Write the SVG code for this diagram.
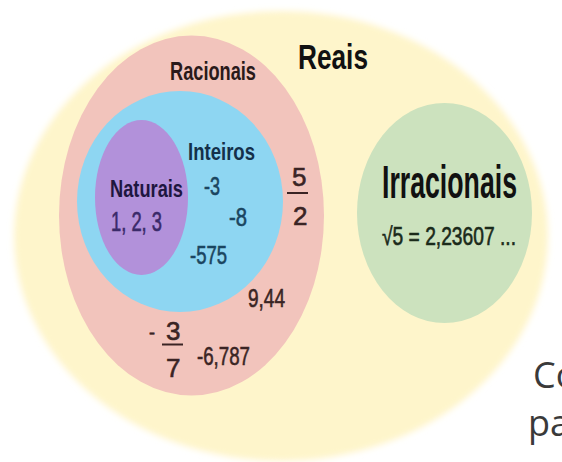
<svg xmlns="http://www.w3.org/2000/svg" width="562" height="462" viewBox="0 0 562 462">
<defs>
<filter id="soft" x="-10%" y="-10%" width="120%" height="120%"><feGaussianBlur stdDeviation="3"/></filter>
</defs>
<style>
.t{font-family:"Liberation Sans Narrow","Liberation Sans",Arial,sans-serif;font-weight:bold}
.n{font-family:"Liberation Sans Narrow","Liberation Sans",Arial,sans-serif;font-weight:normal;stroke-width:0.6}
.bar{stroke-width:2}
</style>
<rect width="562" height="462" fill="#ffffff"/>
<g id="reais">
<ellipse cx="281" cy="236" rx="267" ry="225" fill="#fef5cb" filter="url(#soft)"/>
<text class="t" x="298" y="69" font-size="35" fill="#111" textLength="70" lengthAdjust="spacingAndGlyphs">Reais</text>
</g>
<g id="racionais">
<ellipse cx="191.5" cy="215.5" rx="132.5" ry="180" fill="#f2c4bc"/>
<text class="t" x="170" y="80" font-size="25" fill="#2a1a1a" textLength="86" lengthAdjust="spacingAndGlyphs">Racionais</text>
<text class="n" x="292" y="186" font-size="26" fill="#3a2424" stroke="#3a2424">5</text>
<line class="bar" x1="287" y1="193" x2="308" y2="193" stroke="#3a2424"/>
<text class="n" x="293" y="225" font-size="26" fill="#3a2424" stroke="#3a2424">2</text>
<text class="n" x="248" y="307" font-size="26" fill="#3a2424" stroke="#3a2424" textLength="37" lengthAdjust="spacingAndGlyphs">9,44</text>
<text class="n" x="149" y="339" font-size="18" fill="#3a2424" stroke="#3a2424">-</text>
<text class="n" x="166" y="340" font-size="26" fill="#3a2424" stroke="#3a2424">3</text>
<line class="bar" x1="162" y1="344.5" x2="183" y2="344.5" stroke="#3a2424"/>
<text class="n" x="166" y="377" font-size="26" fill="#3a2424" stroke="#3a2424">7</text>
<text class="n" x="197" y="365" font-size="26" fill="#3a2424" stroke="#3a2424" textLength="53" lengthAdjust="spacingAndGlyphs">-6,787</text>
</g>
<g id="inteiros">
<ellipse cx="180" cy="201.5" rx="103" ry="110.5" fill="#8ed6f2"/>
<text class="t" x="188" y="160" font-size="24" fill="#14304a" textLength="67" lengthAdjust="spacingAndGlyphs">Inteiros</text>
<text class="n" x="204" y="195" font-size="26" fill="#1a4560" stroke="#1a4560" textLength="16" lengthAdjust="spacingAndGlyphs">-3</text>
<text class="n" x="229" y="226" font-size="26" fill="#1a4560" stroke="#1a4560" textLength="18" lengthAdjust="spacingAndGlyphs">-8</text>
<text class="n" x="190" y="264" font-size="26" fill="#1a4560" stroke="#1a4560" textLength="37" lengthAdjust="spacingAndGlyphs">-575</text>
</g>
<g id="naturais">
<ellipse cx="141.5" cy="197.5" rx="46.5" ry="77.5" fill="#b291da"/>
<text class="t" x="110" y="197" font-size="24" fill="#1e1640" textLength="73" lengthAdjust="spacingAndGlyphs">Naturais</text>
<text class="n" x="111" y="231" font-size="27" fill="#3a2a6a" stroke="#3a2a6a" textLength="51" lengthAdjust="spacingAndGlyphs">1, 2, 3</text>
</g>
<g id="irracionais">
<ellipse cx="444.5" cy="213" rx="87.5" ry="110" fill="#cce2be"/>
<text class="t" x="382" y="198" font-size="46" fill="#111" textLength="135" lengthAdjust="spacingAndGlyphs">Irracionais</text>
<text class="n" x="382" y="245" font-size="25" fill="#1a2a1a" stroke="#1a2a1a" textLength="134" lengthAdjust="spacingAndGlyphs">√5 = 2,23607 ...</text>
</g>
<g id="connectors"></g>
<g id="caption">
<text x="533" y="388" font-family="'Open Sans',sans-serif" font-size="36" fill="#3a3a3a">Co</text>
<text x="528" y="436" font-family="'Open Sans',sans-serif" font-size="36" fill="#3a3a3a">par</text>
</g>
</svg>
